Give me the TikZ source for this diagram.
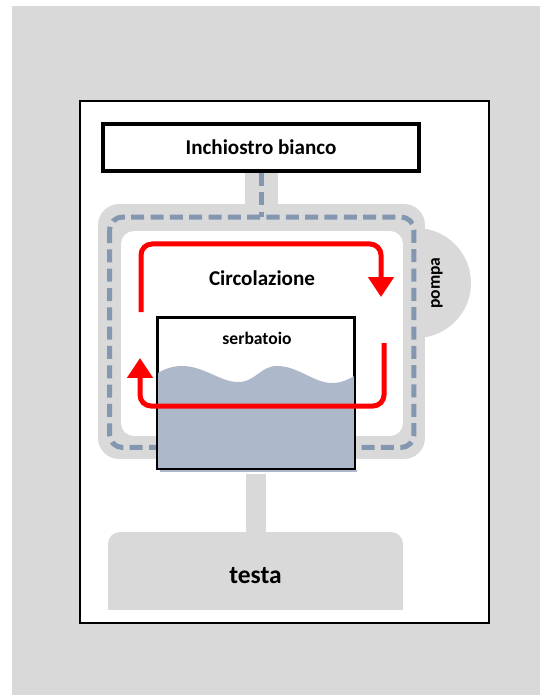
\documentclass[tikz,border=0pt]{standalone}
\usepackage{fontspec}
\setmainfont{Carlito}
\usepackage{xcolor}
\usepackage{tikz}
\usetikzlibrary{arrows.meta,positioning}
\definecolor{panelgray}{HTML}{D9D9D9}
\definecolor{pipeblue}{HTML}{8497B0}
\definecolor{inkblue}{HTML}{ADB9CA}
\definecolor{flowred}{HTML}{FF0000}

\begin{document}
\begin{tikzpicture}[
    x=0.02cm, y=-0.02cm,
    font=\bfseries,
    inkbox/.style={draw, fill=white, line width=0.08cm, minimum width=6.34cm,
                   minimum height=0.94cm, inner sep=0pt, font=\fontsize{12}{14}\selectfont\bfseries},
    ringouter/.style={fill=panelgray, rounded corners=0.42cm, outer sep=0pt,
                      minimum width=6.54cm, minimum height=5.1cm, inner sep=0pt},
    ringinner/.style={fill=white, rounded corners=0.26cm, outer sep=0pt,
                      minimum width=5.64cm, minimum height=4.1cm, inner sep=0pt},
    pipe/.style={draw=panelgray},
    dashline/.style={draw=pipeblue, line width=0.1cm, dash pattern=on 7.4pt off 3.6pt},
    pumpbody/.style={circle, fill=panelgray, minimum size=2.2cm, inner sep=0pt},
    tankbox/.style={draw, fill=white, line width=0.05cm, minimum width=3.92cm,
                    minimum height=3.0cm, inner sep=0pt},
    headbox/.style={fill=panelgray, rounded corners=0.24cm, minimum width=5.9cm,
                    minimum height=1.56cm, inner sep=0pt},
    flow/.style={draw=flowred, line width=0.1cm, rounded corners=0.22cm,
                 -{Triangle[width=0.5cm,length=0.4cm]}},
    tag/.style={font=\fontsize{12}{14}\selectfont\bfseries, align=center}
]
\useasboundingbox (0,0) rectangle (540,695);
\fill[panelgray] (12,6) rectangle (540,695);
\draw[line width=0.04cm, fill=white] (80,101) rectangle (489,623);

\node[pumpbody] (pump) at (416,283) {};
\node[ringouter] (loop) at (261.5,331.5) {};
\node[ringinner] (loopin) at (262,333.5) {};
\node[inkbox] (ink) at (261,147.5) {Inchiostro bianco};
\draw[pipe, line width=0.66cm] (ink.south) -- (ink.south |- loop.north);
\coordinate (dashnw) at ([shift={(11.5,13)}]loop.north west);
\coordinate (dashse) at ([shift={(-11,-11.5)}]loop.south east);
\draw[dashline, rounded corners=0.26cm] (dashnw) rectangle (dashse);
\draw[dashline] (ink.south) -- (ink.south |- dashnw);

\node[tankbox] (tank) at (256,393) {};
\begin{scope}
  \clip (tank.north west) rectangle (tank.south east);
  \fill[inkblue] (158,373) .. controls (166,368) and (174,366) .. (182,366)
    .. controls (204,366) and (220,382) .. (238,382)
    .. controls (256,382) and (260,366) .. (277,366)
    .. controls (298,366) and (314,383) .. (332,383)
    .. controls (342,383) and (349,379) .. (356,375)
    -- (356,470) -- (156,470) -- cycle;
\end{scope}
\draw[line width=0.05cm] (tank.north west) rectangle (tank.south east);
\fill[inkblue] (160,469.5) rectangle (357,472);
\node[tag, font=\fontsize{10}{12}\selectfont\bfseries] (tanklabel) at (257,338) {serbatoio};

\node[headbox] (testa) at (255.5,571) {};
\fill[panelgray] (testa.west) rectangle (testa.south east);
\node[font=\fontsize{14.5}{16}\selectfont\bfseries] (testalabel) at (255.5,576) {testa};
\draw[pipe, line width=0.4cm] ([yshift=-0.1cm]tank.south) -- (tank.south |- testa.north);

\coordinate (upstart) at (141,312);
\coordinate (upturn) at (381,244);
\coordinate (upend) at (381,297);
\coordinate (downstart) at (384,343);
\coordinate (downturn) at (140,406);
\coordinate (downend) at (140,358);
\draw[flow] (upstart) |- (upturn) -- (upend);
\draw[flow] (downstart) |- (downturn) -- (downend);

\node[tag] (circ) at (262,278) {Circolazione};
\node[tag, font=\fontsize{10}{12}\selectfont\bfseries, rotate=90] (pumplabel) at (437,283) {pompa};
\end{tikzpicture}
\end{document}
